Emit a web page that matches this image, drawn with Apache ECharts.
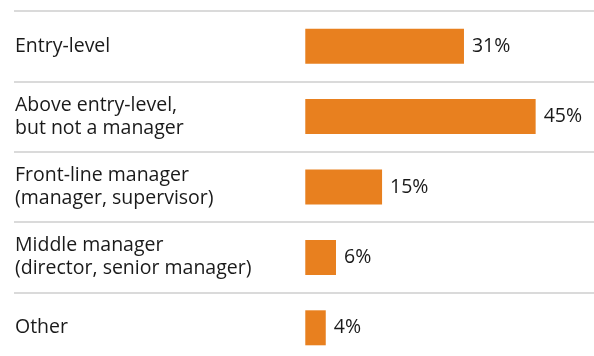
<!DOCTYPE html>
<html>
<head>
<meta charset="utf-8">
<script src="https://cdn.jsdelivr.net/npm/echarts@6/dist/echarts.min.js"></script>
<style>
  html, body { margin: 0; padding: 0; background: #ffffff; }
  #chart { width: 594px; height: 356px; }
</style>
</head>
<body>
<div id="chart"></div>
<script>
// Job level categories, top to bottom
const categories = [
  'Entry-level',
  'Above entry-level,\nbut not a manager',
  'Front-line manager\n(manager, supervisor)',
  'Middle manager\n(director, senior manager)',
  'Other'
];
// Share of respondents, percent
const shares = [31, 45, 15, 6, 4];

const chart = echarts.init(document.getElementById('chart'), null, { renderer: 'canvas' });

const textColor = '#1a1a1a';
const fontFamily = '"Open Sans", Roboto, "Liberation Sans", Arial, sans-serif';
// a clear box lets the top padding nudge the text slightly below the row centre
const clearBox = 'rgba(255,255,255,0)';

chart.setOption({
  animation: false,
  backgroundColor: '#ffffff',
  grid: {
    left: 14,
    right: 0,
    top: 11,
    height: 352,
    containLabel: false,
    outerBoundsMode: 'none'
  },
  xAxis: {
    type: 'value',
    // negative room on the left leaves space for the category text
    min: -56.9,
    max: 56.4,
    show: false
  },
  yAxis: {
    type: 'category',
    data: categories,
    inverse: true,
    axisLine: { show: false },
    axisTick: { show: false },
    axisLabel: {
      align: 'left',
      margin: -1,
      color: textColor,
      fontFamily: fontFamily,
      fontSize: 19.5,
      lineHeight: 23,
      backgroundColor: clearBox,
      padding: [8, 0, 0, 0]
    },
    splitLine: {
      show: true,
      lineStyle: { color: '#dadada', width: 2 }
    }
  },
  series: [{
    type: 'bar',
    data: shares,
    barWidth: 35,
    itemStyle: { color: '#e8801f' },
    label: {
      show: true,
      position: 'right',
      distance: 8,
      formatter: '{c}%',
      color: textColor,
      fontFamily: fontFamily,
      fontSize: 19.5,
      backgroundColor: clearBox,
      padding: [8, 0, 0, 0]
    }
  }]
});
</script>
</body>
</html>
